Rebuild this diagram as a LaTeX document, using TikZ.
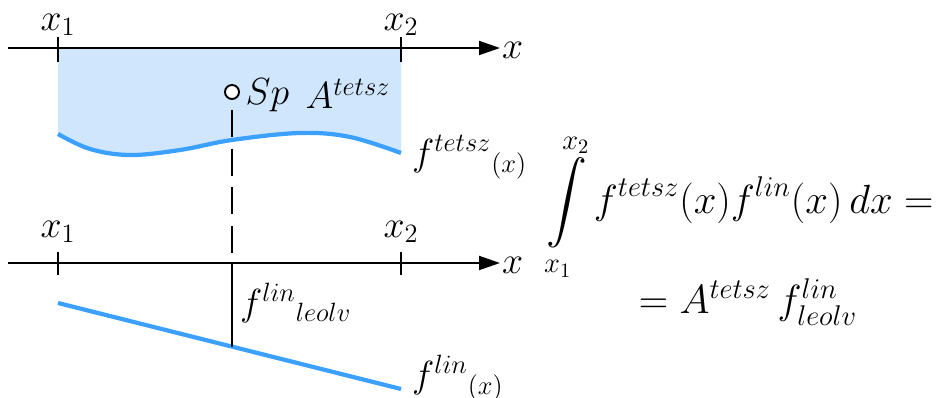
\RequirePackage{fix-cm}
\documentclass[tikz,border=0pt]{standalone}
\usepackage{amsmath,amssymb}
\usepackage{xcolor}
\usepackage{tikz}
\usetikzlibrary{arrows.meta, positioning, calc}
\definecolor{areablue}{RGB}{207,230,252}
\definecolor{lineblue}{RGB}{60,160,255}

\begin{document}
\begin{tikzpicture}[
  x=0.02cm, y=-0.02cm,
  axis/.style={line width=1.1pt, -{Triangle[length=0.42cm, width=0.28cm]}},
  tick/.style={line width=1.1pt},
  curve/.style={line width=2.4pt, lineblue},
  lbl/.style={font=\fontsize{21.5}{26}\selectfont, inner sep=1pt},
  formula/.style={font=\fontsize{23.2}{28}\selectfont, inner sep=0pt},
  dashline/.style={line width=1.1pt, dash pattern=on 15.5pt off 6.5pt}
]
\useasboundingbox (0,0) rectangle (944,398);

% Area under f^tetsz
\fill[areablue] (58,48) -- plot[smooth, tension=0.6] coordinates
  {(58,134) (90,149) (130,155) (180,150) (232,140) (300,133) (350,137) (401,153)}
  -- (401,48) -- cycle;
\draw[curve] plot[smooth, tension=0.6] coordinates
  {(58,134) (90,149) (130,155) (180,150) (232,140) (300,133) (350,137) (401,153)};

% Upper axis
\coordinate (U0) at (8,48);
\coordinate (U1) at (500,48);
\draw[axis] (U0) -- (U1);
\draw[tick] (58,37) -- (58,62);
\draw[tick] (401,37) -- (401,62);
\node[lbl] (ux1) at (58,25) {$x_1$};
\node[lbl] (ux2) at (401,25) {$x_2$};
\node[lbl, anchor=west] (ux) at (500,50) {$x$};

% Centroid
\node[circle, draw, line width=1.1pt, fill=white, minimum size=0.28cm,
      inner sep=0pt] (Sp) at (232,92) {};
\node[lbl, right=2pt of Sp, yshift=-2pt] (SpT) {$Sp$};
\node[lbl] (Atetsz) at (348,94) {$A^{tetsz}$};
\node[lbl, anchor=west] (ftetsz) at (410,157) {$f^{tetsz}{}_{(x)}$};

% Lower axis
\coordinate (D0) at (8,263);
\coordinate (D1) at (500,263);
\coordinate (Dm) at (232,263);
\draw[axis] (D0) -- (D1);
\draw[tick] (58,252) -- (58,275);
\draw[tick] (401,252) -- (401,275);
\node[lbl] (dx1) at (58,232) {$x_1$};
\node[lbl] (dx2) at (401,232) {$x_2$};
\node[lbl, anchor=west] (dx) at (500,265) {$x$};

% Linear function
\coordinate (L1) at (58,303);
\coordinate (L2) at (401,389);
\coordinate (Lm) at ($(L1)!0.5073!(L2)$);
\draw[curve] (L1) -- (L2);
\draw[tick] (Dm) -- (Lm);
\draw[dashline] ([yshift=-0.2cm]Sp.south) -- ([yshift=0.12cm]Dm);
\node[lbl, anchor=west] (fleolv) at (238,303) {$f^{lin}{}_{leolv}$};
\node[lbl, anchor=west] (flin) at (410,378) {$f^{lin}{}_{(x)}$};

% Formula
\node[formula, anchor=west] (int) at (546,207)
  {$\displaystyle\int\limits_{x_1}^{x_2} f^{tetsz}(x)f^{lin}(x)\,dx =$};
\node[formula] (res) at (748,302)
  {$= A^{tetsz}\, f^{lin}_{leolv}$};
\end{tikzpicture}
\end{document}
